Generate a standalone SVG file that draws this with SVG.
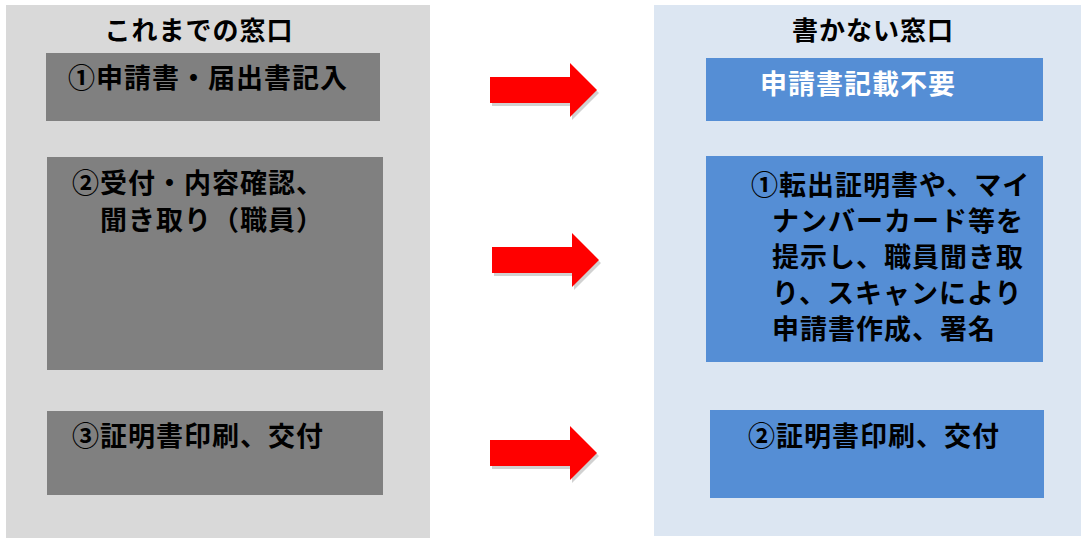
<svg xmlns="http://www.w3.org/2000/svg" width="1087" height="543" viewBox="0 0 1087 543">
<style>
.t{font-family:"Noto Sans CJK JP","Noto Sans",sans-serif;font-weight:bold;font-size:27px;letter-spacing:1px}
.h{font-family:"Noto Sans CJK JP","Noto Sans",sans-serif;font-weight:bold;font-size:26px;letter-spacing:1px;fill:#000}
.g{fill:#808080}
.b{fill:#558ed5}
.ar{fill:#ff0000}
.sh{fill:#000;opacity:0.18}
</style>
<defs>
<path id="arw" d="M0,14 H80 V0 L107,27 L80,54 V40 H0 Z"/>
</defs>
<rect width="1087" height="543" fill="#fff"/>
<g id="left-panel">
<rect x="6" y="5" width="424" height="533" fill="#d9d9d9"/>
<text class="h" x="199" y="40" text-anchor="middle">これまでの窓口</text>
</g>
<g id="right-panel">
<rect x="654" y="5" width="427" height="531" fill="#dce6f2"/>
<text class="h" x="873" y="40" text-anchor="middle">書かない窓口</text>
</g>
<g id="l1">
<rect class="g" x="46" y="53" width="334" height="68"/>
<text class="t" x="68" y="88">①申請書・届出書記入</text>
</g>
<g id="l2">
<rect class="g" x="47" y="157" width="336" height="213"/>
<text class="t" x="72" y="193">②受付・内容確認、</text>
<text class="t" x="100" y="230">聞き取り（職員）</text>
</g>
<g id="l3">
<rect class="g" x="47" y="411" width="336" height="84"/>
<text class="t" x="72" y="446">③証明書印刷、交付</text>
</g>
<g id="r1">
<rect class="b" x="706" y="58" width="337" height="63"/>
<text class="t" x="760" y="94" fill="#fff">申請書記載不要</text>
</g>
<g id="r2">
<rect class="b" x="706" y="156" width="337" height="206"/>
<text class="t" x="751" y="195">①転出証明書や、マイ</text>
<text class="t" x="772" y="231">ナンバーカード等を</text>
<text class="t" x="772" y="267">提示し、職員聞き取</text>
<text class="t" x="772" y="303">り、スキャンにより</text>
<text class="t" x="772" y="339">申請書作成、署名</text>
</g>
<g id="r3">
<rect class="b" x="710" y="410" width="334" height="88"/>
<text class="t" x="748" y="446">②証明書印刷、交付</text>
</g>
<g id="connectors">
<use href="#arw" class="sh" x="492" y="66"/>
<use href="#arw" class="ar" x="490" y="63"/>
<use href="#arw" class="sh" x="494" y="236"/>
<use href="#arw" class="ar" x="492" y="233"/>
<use href="#arw" class="sh" x="492" y="429"/>
<use href="#arw" class="ar" x="490" y="426"/>
</g>
</svg>
